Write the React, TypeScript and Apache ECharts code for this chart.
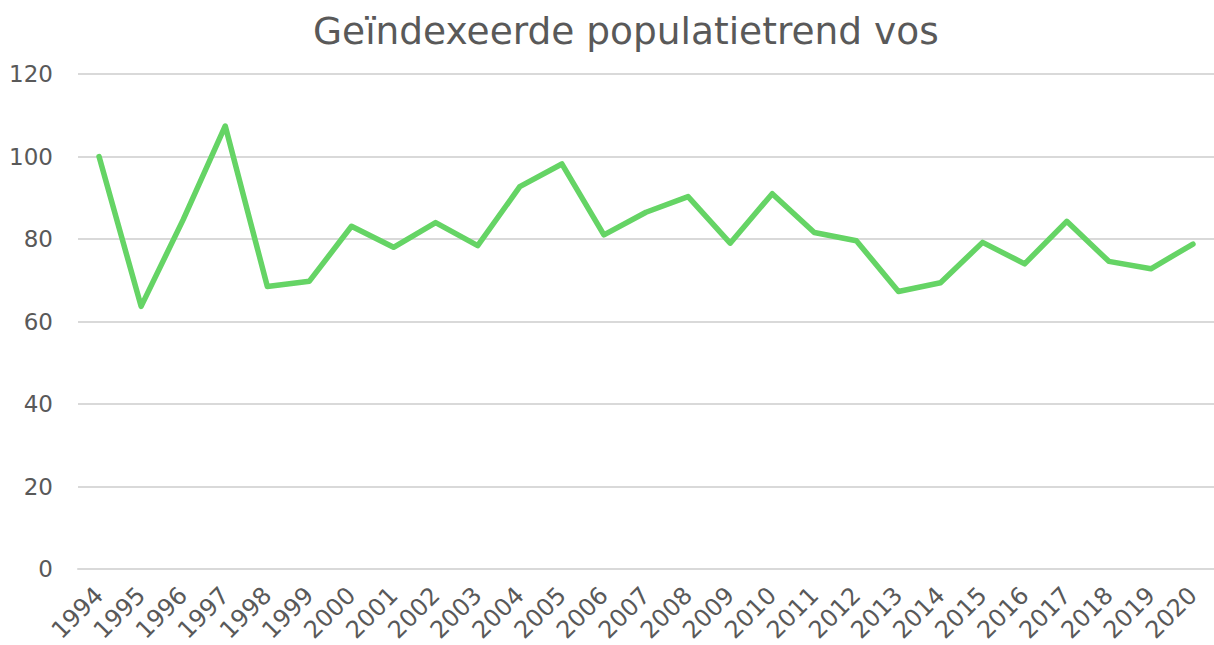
import React, { useEffect, useRef } from "react";
import * as echarts from "echarts";

const title = "Geïndexeerde populatietrend vos";
const years = [
  "1994", "1995", "1996", "1997", "1998", "1999", "2000", "2001", "2002",
  "2003", "2004", "2005", "2006", "2007", "2008", "2009", "2010", "2011",
  "2012", "2013", "2014", "2015", "2016", "2017", "2018", "2019", "2020",
];
const indexValues = [
  100, 63.7, 84.7, 107.4, 68.5, 69.8, 83.1, 78.0, 84.0,
  78.4, 92.7, 98.2, 81.0, 86.5, 90.3, 79.0, 91.0, 81.6,
  79.6, 67.3, 69.4, 79.2, 74.0, 84.3, 74.6, 72.8, 78.8,
];
const yTicks = { min: 0, max: 120, interval: 20 };

export default function App() {
  const ref = useRef<HTMLDivElement>(null);
  useEffect(() => {
    document.body.style.margin = "0";
    if (!ref.current) return;
    const chart = echarts.init(ref.current, null, { renderer: "svg" });
    const textColor = "#595959";
    const font = "'DejaVu Sans', Verdana, sans-serif";
    chart.setOption({
      animation: false,
      backgroundColor: "#ffffff",
      title: {
        text: title,
        left: 308,
        top: 7,
        textStyle: {
          fontFamily: font,
          fontSize: 37.5,
          fontWeight: "normal",
          color: textColor,
        },
      },
      grid: { left: 78, width: 1140, top: 74, bottom: 75, containLabel: false },
      xAxis: {
        type: "category",
        data: years,
        boundaryGap: true,
        axisLine: { show: true, lineStyle: { color: "#d9d9d9", width: 2 } },
        axisTick: { show: false },
        axisLabel: {
          rotate: 45,
          margin: 22,
          interval: 0,
          fontFamily: font,
          fontSize: 24,
          color: textColor,
        },
        splitLine: { show: false },
      },
      yAxis: {
        type: "value",
        min: yTicks.min,
        max: yTicks.max,
        interval: yTicks.interval,
        axisLine: { show: false },
        axisTick: { show: false },
        axisLabel: {
          margin: 25,
          fontFamily: font,
          fontSize: 23,
          color: textColor,
        },
        splitLine: { show: true, lineStyle: { color: "#d9d9d9", width: 2 } },
      },
      series: [
        {
          type: "line",
          data: indexValues,
          symbol: "none",
          lineStyle: { color: "#65d465", width: 5.5, cap: "round", join: "round" },
          itemStyle: { color: "#65d465" },
        },
      ],
    });
    return () => chart.dispose();
  }, []);
  return <div ref={ref} style={{ width: 1214, height: 645 }} />;
}
